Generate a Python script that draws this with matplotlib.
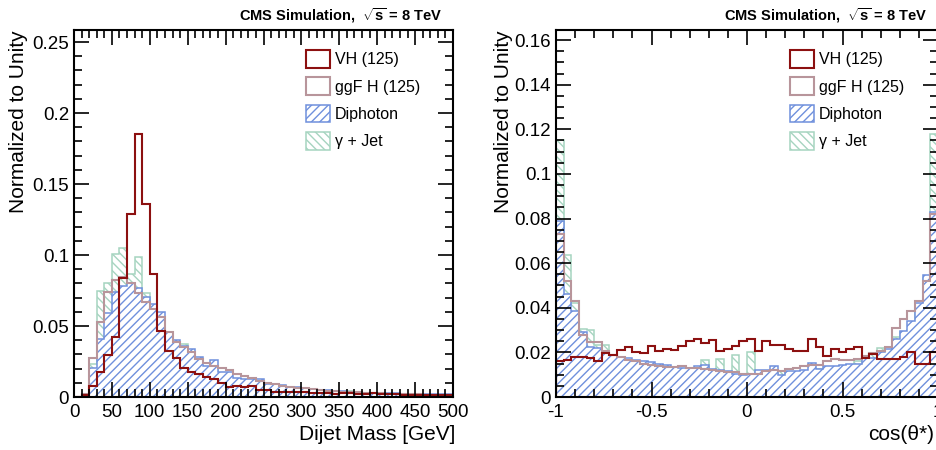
import numpy as np
import matplotlib
matplotlib.use('Agg')
import matplotlib.pyplot as plt
from matplotlib.patches import Patch
from matplotlib.ticker import MultipleLocator

plt.rcParams['font.family'] = ['Liberation Sans', 'DejaVu Sans']
plt.rcParams['mathtext.fontset'] = 'custom'
plt.rcParams['mathtext.rm'] = 'Liberation Sans:bold'
plt.rcParams['mathtext.it'] = 'Liberation Sans:bold'
plt.rcParams['mathtext.bf'] = 'Liberation Sans:bold'
plt.rcParams['hatch.linewidth'] = 1.0

# dijet mass, 10 GeV bins from 0 to 500
mass_edges = np.arange(0, 510, 10)
vh_mjj = [0, 0.0015, 0.008, 0.0174, 0.0296, 0.0425, 0.0836, 0.129, 0.185, 0.136,
          0.0866, 0.0467, 0.0324, 0.0272, 0.0202, 0.0174, 0.0162, 0.0143, 0.0126, 0.0096,
          0.0073, 0.0075, 0.0073, 0.0075, 0.0049, 0.0052, 0.0037, 0.0037, 0.0035, 0.0033,
          0.0033, 0.0028, 0.0026, 0.0026, 0.0024, 0.0026, 0.003, 0.0024, 0.0021, 0.0028,
          0.0019, 0.0021, 0.0019, 0.0016, 0.0016, 0.0014, 0.0012, 0.0012, 0.0016, 0.0014]
ggf_mjj = [0, 0.002, 0.0277, 0.053, 0.074, 0.0824, 0.0847, 0.080, 0.0734, 0.067,
           0.0617, 0.0565, 0.046, 0.039, 0.0354, 0.032, 0.027, 0.024, 0.022, 0.0205,
           0.019, 0.0165, 0.015, 0.0135, 0.0115, 0.010, 0.009, 0.008, 0.007, 0.0065,
           0.006, 0.0055, 0.005, 0.0045, 0.004, 0.0038, 0.0035, 0.0032, 0.003, 0.0028,
           0.0026, 0.0024, 0.0022, 0.002, 0.0019, 0.0018, 0.0017, 0.0016, 0.0015, 0.0014]
dipho_mjj = [0, 0.002, 0.0202, 0.0408, 0.0594, 0.074, 0.078, 0.080, 0.077, 0.0706,
             0.0655, 0.060, 0.046, 0.040, 0.036, 0.034, 0.028, 0.0218, 0.026, 0.0178,
             0.0178, 0.0135, 0.013, 0.013, 0.0125, 0.0095, 0.009, 0.0085, 0.0072, 0.007,
             0.0065, 0.0055, 0.005, 0.005, 0.0045, 0.004, 0.0035, 0.0033, 0.003, 0.003,
             0.0028, 0.0026, 0.0025, 0.0024, 0.0022, 0.0021, 0.002, 0.0019, 0.0018, 0.0018]
gjet_mjj = [0, 0.0015, 0.023, 0.0746, 0.080, 0.1005, 0.105, 0.0866, 0.0988, 0.073,
            0.0565, 0.0495, 0.0437, 0.0373, 0.037, 0.0225, 0.021, 0.018, 0.019, 0.016,
            0.012, 0.011, 0.0105, 0.0095, 0.008, 0.007, 0.006, 0.0055, 0.005, 0.0045,
            0.004, 0.0035, 0.0033, 0.003, 0.0028, 0.0026, 0.0042, 0.0022, 0.002, 0.0018,
            0.0016, 0.0015, 0.0014, 0.0013, 0.0012, 0.0011, 0.001, 0.001, 0.001, 0.0009]

# cos(theta*), 50 bins from -1 to 1
cos_edges = np.linspace(-1, 1, 51)
vh_cos = [0.0162, 0.0168, 0.0178, 0.018, 0.0175, 0.016, 0.0195, 0.019, 0.021, 0.0225,
          0.020, 0.0195, 0.023, 0.0207, 0.0217, 0.021, 0.0229, 0.0251, 0.0259, 0.0244,
          0.0255, 0.0207, 0.0217, 0.0229, 0.0251, 0.0259, 0.0207, 0.0251, 0.0235, 0.0235,
          0.0217, 0.0207, 0.0207, 0.0259, 0.0222, 0.0185, 0.0215, 0.020, 0.0217, 0.0222,
          0.0177, 0.0192, 0.0169, 0.017, 0.0172, 0.018, 0.020, 0.0147, 0.0147, 0.020]
ggf_cos = [0.073, 0.052, 0.043, 0.0277, 0.0247, 0.0247, 0.0207, 0.019, 0.018, 0.0165,
           0.016, 0.015, 0.0145, 0.014, 0.0135, 0.0133, 0.0138, 0.013, 0.0128, 0.0125,
           0.012, 0.0118, 0.0112, 0.011, 0.0105, 0.0103, 0.0105, 0.0115, 0.012, 0.0118,
           0.0125, 0.013, 0.0138, 0.0142, 0.0145, 0.016, 0.017, 0.0165, 0.0165, 0.0172,
           0.0185, 0.0195, 0.0205, 0.0225, 0.031, 0.0348, 0.0385, 0.043, 0.052, 0.082]
dipho_cos = [0.079, 0.046, 0.0387, 0.029, 0.0223, 0.022, 0.0205, 0.019, 0.018, 0.0175,
             0.0165, 0.016, 0.0155, 0.0148, 0.0143, 0.0135, 0.0132, 0.013, 0.0137, 0.0142,
             0.0125, 0.012, 0.0115, 0.0105, 0.010, 0.0102, 0.0122, 0.0122, 0.0137, 0.0098,
             0.0115, 0.0115, 0.012, 0.0152, 0.0125, 0.0137, 0.014, 0.0142, 0.015, 0.015,
             0.0181, 0.0175, 0.020, 0.0214, 0.0259, 0.0296, 0.034, 0.0422, 0.0549, 0.083]
gjet_cos = [0.1153, 0.0638, 0.042, 0.0303, 0.030, 0.0232, 0.0232, 0.018, 0.016, 0.015,
            0.013, 0.012, 0.0105, 0.011, 0.0095, 0.0105, 0.0115, 0.0105, 0.012, 0.0165,
            0.011, 0.017, 0.0095, 0.019, 0.0085, 0.020, 0.010, 0.011, 0.010, 0.0115,
            0.0105, 0.0095, 0.011, 0.010, 0.0125, 0.012, 0.0125, 0.0135, 0.0145, 0.016,
            0.0178, 0.0195, 0.022, 0.020, 0.027, 0.029, 0.030, 0.041, 0.0534, 0.118]

labels = ['VH (125)', 'ggF H (125)', 'Diphoton', u'\u03b3 + Jet']
c_vh = '#8c1010'
c_ggf = '#b8959b'
c_dipho = '#6f90dc'
c_gjet = '#a6d4c0'


def draw_panel(ax, edges, vh, ggf, dipho, gjet):
    ax.stairs(gjet, edges, fill=True, facecolor='white', edgecolor=c_gjet,
              hatch='\\\\\\\\', lw=1.1)
    ax.stairs(dipho, edges, fill=True, facecolor='white', edgecolor=c_dipho,
              hatch='////', lw=1.1)
    ax.stairs(ggf, edges, color=c_ggf, lw=1.5)
    ax.stairs(vh, edges, color=c_vh, lw=1.5)

    handles = [Patch(facecolor='white', edgecolor=c_vh, lw=1.5),
               Patch(facecolor='white', edgecolor=c_ggf, lw=1.5),
               Patch(facecolor='white', edgecolor=c_dipho, hatch='////', lw=1.1),
               Patch(facecolor='white', edgecolor=c_gjet, hatch='\\\\\\\\', lw=1.1)]
    ax.legend(handles, labels, loc='upper left', bbox_to_anchor=(0.612, 0.945),
              frameon=False, fontsize=11.5, handlelength=1.5, handleheight=1.3,
              handletextpad=0.3, labelspacing=0.62, borderpad=0, borderaxespad=0)

    ax.tick_params(which='both', direction='in', top=True, right=True,
                   labelsize=13.5, width=1.2)
    ax.tick_params(which='major', length=11)
    ax.tick_params(which='minor', length=5.5)
    ax.tick_params(axis='x', which='major', pad=5)
    for s in ax.spines.values():
        s.set_linewidth(1.5)

    ax.text(0.97, 1.027, r'CMS Simulation,  $\sqrt{\mathrm{s}}$ = 8 TeV',
            transform=ax.transAxes, ha='right', va='baseline',
            fontsize=10.5, fontweight='bold')
    ax.set_ylabel('Normalized to Unity', fontsize=15, loc='top')


fig = plt.figure(figsize=(9.36, 4.5), dpi=100)
ax1 = fig.add_axes([74 / 936, 53 / 450, 379 / 936, 367 / 450])
ax2 = fig.add_axes([556 / 936, 53 / 450, 382 / 936, 367 / 450])

draw_panel(ax1, mass_edges, vh_mjj, ggf_mjj, dipho_mjj, gjet_mjj)
ax1.set_xlim(0, 500)
ax1.set_ylim(0, 0.2585)
ax1.xaxis.set_major_locator(MultipleLocator(50))
ax1.xaxis.set_minor_locator(MultipleLocator(10))
ax1.yaxis.set_minor_locator(MultipleLocator(0.01))
ax1.set_yticks([0, 0.05, 0.1, 0.15, 0.2, 0.25], ['0', '0.05', '0.1', '0.15', '0.2', '0.25'])
ax1.set_xlabel('Dijet Mass [GeV]', fontsize=15, loc='right')
ax1.xaxis.set_label_coords(1.005, -0.075)
ax1.yaxis.set_label_coords(-0.122, 1.0)

draw_panel(ax2, cos_edges, vh_cos, ggf_cos, dipho_cos, gjet_cos)
ax2.set_xlim(-1, 1)
ax2.set_ylim(0, 0.1645)
ax2.xaxis.set_minor_locator(MultipleLocator(0.1))
ax2.yaxis.set_minor_locator(MultipleLocator(0.005))
ax2.set_yticks(np.arange(0, 0.161, 0.02),
               ['0', '0.02', '0.04', '0.06', '0.08', '0.1', '0.12', '0.14', '0.16'])
ax2.set_xticks([-1, -0.5, 0, 0.5, 1], ['-1', '-0.5', '0', '0.5', '1'])
ax2.set_xlabel(u'cos(\u03b8*)', fontsize=15, loc='right')
ax2.xaxis.set_label_coords(0.99, -0.075)
ax2.yaxis.set_label_coords(-0.113, 1.0)

fig.savefig('out.png', dpi=100)
